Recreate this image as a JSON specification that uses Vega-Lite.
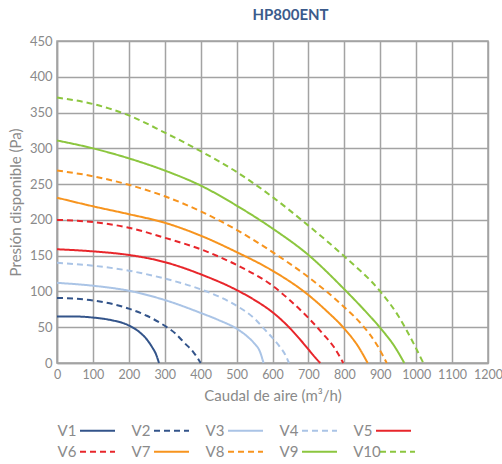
{
  "$schema": "https://vega.github.io/schema/vega-lite/v6.json",
  "width": 431,
  "height": 322,
  "autosize": {"type": "none"},
  "padding": {"left": 57, "top": 41, "right": 14, "bottom": 101},
  "title": {"text": "HP800ENT", "anchor": "middle", "dx": 18, "offset": 12, "fontSize": 15, "fontWeight": "bold", "color": "#3b5b8c", "font": "Lato"},
  "data": {"values": [
    {"s":"V1","q":0,"p":65},{"s":"V1","q":50,"p":65},{"s":"V1","q":100,"p":63.5},{"s":"V1","q":150,"p":60},{"s":"V1","q":200,"p":52.5},{"s":"V1","q":230,"p":43},{"s":"V1","q":250,"p":33},{"s":"V1","q":265,"p":22},{"s":"V1","q":275,"p":13},{"s":"V1","q":284,"p":0},
    {"s":"V2","q":0,"p":91},{"s":"V2","q":100,"p":87.5},{"s":"V2","q":200,"p":76},{"s":"V2","q":250,"p":66},{"s":"V2","q":300,"p":52},{"s":"V2","q":330,"p":41},{"s":"V2","q":355,"p":28},{"s":"V2","q":380,"p":15},{"s":"V2","q":390,"p":8},{"s":"V2","q":400,"p":0},
    {"s":"V3","q":0,"p":112},{"s":"V3","q":100,"p":108},{"s":"V3","q":200,"p":101},{"s":"V3","q":300,"p":88},{"s":"V3","q":400,"p":70},{"s":"V3","q":450,"p":60},{"s":"V3","q":500,"p":48},{"s":"V3","q":530,"p":37},{"s":"V3","q":550,"p":27},{"s":"V3","q":565,"p":16},{"s":"V3","q":575,"p":0},
    {"s":"V4","q":0,"p":140},{"s":"V4","q":100,"p":136},{"s":"V4","q":200,"p":129},{"s":"V4","q":300,"p":118},{"s":"V4","q":400,"p":103},{"s":"V4","q":450,"p":93},{"s":"V4","q":500,"p":80},{"s":"V4","q":550,"p":62},{"s":"V4","q":580,"p":46},{"s":"V4","q":600,"p":35},{"s":"V4","q":620,"p":23},{"s":"V4","q":635,"p":12},{"s":"V4","q":646,"p":0},
    {"s":"V5","q":0,"p":159},{"s":"V5","q":100,"p":156},{"s":"V5","q":200,"p":151},{"s":"V5","q":300,"p":141},{"s":"V5","q":400,"p":124},{"s":"V5","q":500,"p":102},{"s":"V5","q":550,"p":88},{"s":"V5","q":600,"p":71},{"s":"V5","q":640,"p":53},{"s":"V5","q":680,"p":31},{"s":"V5","q":700,"p":19},{"s":"V5","q":720,"p":7},{"s":"V5","q":733,"p":0},
    {"s":"V6","q":0,"p":200},{"s":"V6","q":100,"p":197},{"s":"V6","q":200,"p":189},{"s":"V6","q":300,"p":175},{"s":"V6","q":400,"p":159},{"s":"V6","q":500,"p":137},{"s":"V6","q":600,"p":108},{"s":"V6","q":650,"p":87},{"s":"V6","q":700,"p":63},{"s":"V6","q":740,"p":41},{"s":"V6","q":770,"p":23},{"s":"V6","q":797,"p":0},
    {"s":"V7","q":0,"p":231},{"s":"V7","q":100,"p":219},{"s":"V7","q":200,"p":208},{"s":"V7","q":300,"p":196},{"s":"V7","q":400,"p":178},{"s":"V7","q":500,"p":155},{"s":"V7","q":600,"p":129},{"s":"V7","q":700,"p":95},{"s":"V7","q":750,"p":73},{"s":"V7","q":800,"p":48},{"s":"V7","q":840,"p":22},{"s":"V7","q":865,"p":0},
    {"s":"V8","q":0,"p":269},{"s":"V8","q":100,"p":261},{"s":"V8","q":200,"p":249},{"s":"V8","q":300,"p":233},{"s":"V8","q":400,"p":212},{"s":"V8","q":500,"p":186},{"s":"V8","q":600,"p":155},{"s":"V8","q":700,"p":120},{"s":"V8","q":800,"p":78},{"s":"V8","q":850,"p":53},{"s":"V8","q":890,"p":26},{"s":"V8","q":918,"p":0},
    {"s":"V9","q":0,"p":311},{"s":"V9","q":100,"p":300},{"s":"V9","q":200,"p":286},{"s":"V9","q":300,"p":269},{"s":"V9","q":400,"p":248},{"s":"V9","q":500,"p":220},{"s":"V9","q":600,"p":188},{"s":"V9","q":700,"p":151},{"s":"V9","q":800,"p":103},{"s":"V9","q":850,"p":77},{"s":"V9","q":900,"p":49},{"s":"V9","q":940,"p":23},{"s":"V9","q":967,"p":0},
    {"s":"V10","q":0,"p":371},{"s":"V10","q":100,"p":362},{"s":"V10","q":200,"p":346},{"s":"V10","q":300,"p":322},{"s":"V10","q":400,"p":296},{"s":"V10","q":500,"p":267},{"s":"V10","q":600,"p":232},{"s":"V10","q":700,"p":192},{"s":"V10","q":800,"p":149},{"s":"V10","q":900,"p":100},{"s":"V10","q":950,"p":66},{"s":"V10","q":990,"p":30},{"s":"V10","q":1020,"p":0}
  ]},
  "encoding": {
    "x": {"field": "q", "type": "quantitative", "title": "Caudal de aire (m³/h)",
          "scale": {"domain": [0, 1200], "nice": false},
          "axis": {"values": [0,100,200,300,400,500,600,700,800,900,1000,1100,1200], "format": "d", "labelOverlap": false, "labelFlush": false, "labelFontSize": 12.5, "titlePadding": 8}},
    "y": {"field": "p", "type": "quantitative", "title": "Presión disponible (Pa)",
          "scale": {"domain": [0, 450], "nice": false},
          "axis": {"values": [0,50,100,150,200,250,300,350,400,450], "format": "d", "labelOverlap": false, "titlePadding": 6}}
  },
  "layer": [
    {
      "transform": [{"filter": {"field": "s", "oneOf": ["V1","V2","V3","V4","V5"]}}],
      "mark": {"type": "line", "interpolate": "monotone", "strokeWidth": 2},
      "encoding": {
        "color": {"field": "s", "type": "nominal", "title": null,
                  "scale": {"domain": ["V1","V2","V3","V4","V5"], "range": ["#33548a","#33548a","#aac4e6","#aac4e6","#e8262b"]},
                  "legend": {"legendY": 371}},
        "strokeDash": {"field": "s", "type": "nominal", "title": null,
                  "scale": {"domain": ["V1","V2","V3","V4","V5"], "range": [[1,0],[6,4],[1,0],[6,4],[1,0]]},
                  "legend": {"legendY": 371}}
      }
    },
    {
      "transform": [{"filter": {"field": "s", "oneOf": ["V6","V7","V8","V9","V10"]}}],
      "mark": {"type": "line", "interpolate": "monotone", "strokeWidth": 2},
      "encoding": {
        "color": {"field": "s", "type": "nominal", "title": null,
                  "scale": {"domain": ["V6","V7","V8","V9","V10"], "range": ["#e8262b","#f7941e","#f7941e","#8cc63f","#8cc63f"]},
                  "legend": {"legendY": 392}},
        "strokeDash": {"field": "s", "type": "nominal", "title": null,
                  "scale": {"domain": ["V6","V7","V8","V9","V10"], "range": [[6,4],[1,0],[6,4],[1,0],[6,4]]},
                  "legend": {"legendY": 392}}
      }
    }
  ],
  "resolve": {"scale": {"color": "independent", "strokeDash": "independent"}, "legend": {"color": "independent", "strokeDash": "independent"}},
  "config": {
    "view": {"stroke": "#a3a3a3", "strokeWidth": 1.5},
    "axis": {"labelFont": "Lato", "labelFontSize": 13, "labelColor": "#8a8a8a", "titleFont": "Lato", "titleFontSize": 15, "titleFontWeight": "normal", "titleColor": "#8a8a8a",
             "grid": true, "gridColor": "#a3a3a3", "gridWidth": 1.5, "gridOpacity": 1, "domainColor": "#a3a3a3", "domainWidth": 1.5, "ticks": false, "tickSize": 0, "labelPadding": 5},
    "legend": {"orient": "none", "legendX": 22, "direction": "horizontal", "columns": 5, "symbolType": "stroke", "symbolSize": 1225, "symbolStrokeWidth": 2,
               "labelAlign": "center", "labelOffset": -49, "labelFont": "Lato", "labelFontSize": 15, "labelColor": "#8a8a8a", "columnPadding": 12, "rowPadding": 3}
  }
}
